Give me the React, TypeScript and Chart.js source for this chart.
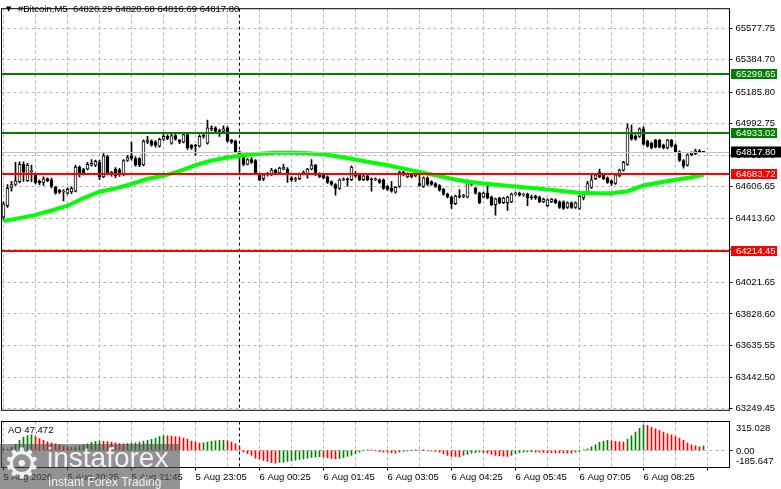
import React, { useEffect, useRef } from "react";
import { Chart, registerables } from "chart.js";

Chart.register(...registerables);

const FONT = "'Liberation Sans', Arial, sans-serif";
const FS = 9.5;
const GRID = "#b4b4b4";

// ---- data ----
const symbolName = "#Bitcoin,M5";
const startMinute = 19 * 60 + 5; // first bar: 5 Aug 19:05
const slotCount = 182; // bars + empty right shift
const axisLabels = [
  "5 Aug 2026", "5 Aug 20:25", "5 Aug 21:45", "5 Aug 23:05", "6 Aug 00:25", "6 Aug 01:45",
  "6 Aug 03:05", "6 Aug 04:25", "6 Aug 05:45", "6 Aug 07:05", "6 Aug 08:25",
];
const priceTicks = [
  65577.75, 65384.7, 65185.8, 64992.75, 64799.7, 64606.65, 64413.6, 64220.55,
  64021.65, 63828.6, 63635.55, 63442.5, 63249.45,
];
const priceMin = 63238.9;
const priceMax = 65696.8;

const openP = [
  64421, 64491, 64603, 64621, 64638, 64744, 64645, 64700, 64680, 64640, 64633, 64656, 64650, 64603, 64586, 64575,
  64568, 64575, 64580, 64727, 64712, 64715, 64739, 64739, 64756, 64668, 64792, 64685, 64715, 64710, 64680, 64768,
  64797, 64780, 64780, 64740, 64880, 64886, 64880, 64856, 64898, 64915, 64874, 64921, 64892, 64880, 64927, 64862,
  64860, 64856, 64921, 64874, 64968, 64968, 64950, 64945, 64968, 64892, 64886, 64821, 64786, 64744, 64774, 64768,
  64686, 64656, 64680, 64680, 64709, 64692, 64715, 64715, 64662, 64650, 64656, 64686, 64686, 64715, 64739, 64686,
  64680, 64668, 64638, 64621, 64597, 64650, 64656, 64650, 64690, 64680, 64650, 64674, 64656, 64650, 64650, 64650,
  64609, 64597, 64574, 64609, 64697, 64668, 64680, 64674, 64627, 64609, 64662, 64638, 64627, 64615, 64591, 64562,
  64544, 64503, 64550, 64548, 64544, 64638, 64597, 64568, 64544, 64568, 64544, 64497, 64538, 64509, 64509, 64515,
  64562, 64568, 64556, 64562, 64544, 64550, 64544, 64515, 64491, 64515, 64527, 64515, 64515, 64480, 64509, 64480,
  64474, 64538, 64568, 64603, 64656, 64697, 64680, 64662, 64644, 64627, 64674, 64709, 64744, 64927, 64915, 64915,
  64962, 64886, 64874, 64892, 64892, 64862, 64844, 64892, 64862, 64821, 64768, 64739, 64803, 64809, 64827, 64820.29,
];
const highP = [
  64515, 64620, 64640, 64756, 64760, 64760, 64750, 64739, 64690, 64650, 64668, 64662, 64660, 64609, 64592, 64590,
  64600, 64606, 64740, 64735, 64720, 64756, 64774, 64770, 64770, 64810, 64800, 64702, 64725, 64720, 64774, 64800,
  64880, 64790, 64786, 64895, 64915, 64895, 64890, 64905, 64933, 64925, 64930, 64930, 64898, 64935, 64935, 64865,
  64866, 64925, 64930, 65015, 64980, 64975, 64960, 64980, 64975, 64898, 64892, 64825, 64792, 64780, 64786, 64774,
  64690, 64686, 64695, 64720, 64715, 64727, 64744, 64725, 64670, 64665, 64690, 64705, 64720, 64774, 64745, 64692,
  64686, 64674, 64644, 64627, 64656, 64662, 64662, 64735, 64700, 64686, 64680, 64680, 64662, 64662, 64656, 64656,
  64615, 64640, 64609, 64703, 64703, 64692, 64686, 64710, 64680, 64668, 64668, 64644, 64633, 64621, 64597, 64568,
  64550, 64556, 64590, 64560, 64650, 64644, 64603, 64574, 64574, 64621, 64550, 64538, 64544, 64544, 64550, 64568,
  64574, 64574, 64568, 64568, 64556, 64556, 64550, 64538, 64533, 64536, 64533, 64521, 64521, 64515, 64515, 64515,
  64556, 64568, 64640, 64686, 64686, 64715, 64686, 64668, 64650, 64686, 64715, 64762, 64992, 64985, 64927, 64968,
  64975, 64892, 64880, 64898, 64898, 64868, 64898, 64898, 64868, 64827, 64774, 64809, 64821, 64838, 64835, 64820.68,
];
const lowP = [
  64403, 64480, 64580, 64615, 64630, 64640, 64640, 64638, 64625, 64620, 64615, 64638, 64600, 64562, 64565, 64521,
  64560, 64565, 64575, 64668, 64680, 64710, 64733, 64730, 64650, 64662, 64680, 64672, 64662, 64670, 64675, 64762,
  64770, 64733, 64730, 64735, 64870, 64855, 64850, 64850, 64890, 64895, 64868, 64892, 64870, 64875, 64835, 64835,
  64800, 64850, 64905, 64868, 64950, 64940, 64915, 64940, 64880, 64872, 64815, 64697, 64735, 64740, 64750, 64686,
  64645, 64645, 64672, 64675, 64686, 64686, 64710, 64633, 64640, 64640, 64650, 64680, 64660, 64710, 64675, 64662,
  64655, 64627, 64615, 64556, 64590, 64645, 64610, 64645, 64665, 64645, 64644, 64644, 64580, 64644, 64627, 64590,
  64585, 64574, 64568, 64603, 64674, 64662, 64662, 64668, 64609, 64603, 64615, 64615, 64603, 64580, 64556, 64538,
  64474, 64497, 64538, 64540, 64538, 64615, 64562, 64503, 64538, 64532, 64491, 64433, 64503, 64503, 64462, 64509,
  64556, 64550, 64550, 64491, 64530, 64530, 64509, 64509, 64485, 64509, 64503, 64474, 64468, 64474, 64474, 64474,
  64468, 64527, 64562, 64597, 64650, 64662, 64650, 64627, 64615, 64621, 64668, 64703, 64738, 64892, 64892, 64909,
  64862, 64850, 64838, 64844, 64844, 64838, 64838, 64850, 64815, 64762, 64721, 64733, 64797, 64803, 64815, 64816.69,
];
const closeP = [
  64503, 64597, 64621, 64644, 64744, 64697, 64739, 64703, 64633, 64630, 64656, 64645, 64609, 64568, 64574, 64580,
  64592, 64597, 64727, 64680, 64686, 64744, 64750, 64762, 64668, 64797, 64686, 64695, 64674, 64680, 64768, 64786,
  64780, 64739, 64739, 64886, 64892, 64862, 64862, 64898, 64915, 64903, 64921, 64898, 64880, 64927, 64844, 64844,
  64856, 64915, 64915, 64968, 64960, 64945, 64945, 64962, 64886, 64880, 64821, 64803, 64744, 64774, 64756, 64692,
  64650, 64680, 64686, 64709, 64692, 64721, 64727, 64680, 64650, 64656, 64686, 64697, 64715, 64739, 64680, 64668,
  64662, 64633, 64621, 64597, 64650, 64656, 64650, 64727, 64672, 64650, 64674, 64650, 64650, 64656, 64633, 64597,
  64591, 64580, 64603, 64697, 64680, 64686, 64668, 64703, 64615, 64662, 64621, 64621, 64609, 64586, 64562, 64544,
  64503, 64550, 64545, 64550, 64644, 64621, 64568, 64509, 64568, 64538, 64497, 64533, 64509, 64538, 64544, 64562,
  64568, 64556, 64562, 64538, 64540, 64538, 64515, 64532, 64527, 64530, 64509, 64480, 64474, 64509, 64480, 64509,
  64550, 64562, 64627, 64650, 64680, 64668, 64656, 64633, 64627, 64680, 64709, 64756, 64968, 64898, 64898, 64962,
  64868, 64856, 64844, 64850, 64850, 64844, 64892, 64856, 64821, 64768, 64733, 64803, 64815, 64827, 64821, 64817.8,
];

// moving average, read at sampled bars
const maBars = [
  0, 4, 8, 12, 16, 20, 24, 28, 32, 36, 40, 44, 48, 52, 56, 60, 64, 68, 72, 76, 80, 84, 88,
  92, 96, 100, 104, 108, 112, 116, 120, 124, 128, 132, 136, 140, 144, 148, 152, 156, 160, 164, 168, 172, 175,
];
const maValues = [
  64397, 64415, 64435, 64462, 64491, 64538, 64577, 64597, 64624, 64656, 64674, 64703, 64739, 64768, 64786,
  64800, 64809, 64815, 64815, 64812, 64806, 64791, 64774, 64756, 64739, 64718, 64697, 64677, 64656, 64638,
  64627, 64618, 64609, 64600, 64591, 64580, 64571, 64568, 64568, 64580, 64615, 64633, 64650, 64665, 64680,
];

const greenLevels = [65299.65, 64933.02];
const redLevels = [64683.72, 64214.45];
const dayBreakBar = 59;

const aoValues = [
  18, 15, 35, 65, 109, 145, 163, 170, 150, 130, 110, 95, 84, 73, 62, 47,
  36, 33, 40, 50, 62, 73, 87, 98, 105, 100, 96, 91, 84, 76, 73, 76,
  80, 84, 91, 102, 109, 120, 134, 152, 163, 160, 156, 152, 145, 134, 120, 102,
  91, 80, 82, 91, 98, 105, 109, 110, 105, 91, 73, 36, -18, -36, -54, -83,
  -91, -109, -120, -134, -138, -131, -127, -120, -113, -105, -98, -91, -84, -76, -73, -69,
  -72, -80, -87, -91, -87, -80, -65, -54, -36, -18, -5, 4, 2, -4, -12, -18,
  -19, -25, -29, -18, -11, -7, 0, 4, 5, 1, -3, -7, -11, -18, -36, -54,
  -65, -66, -67, -54, -44, -29, -25, -18, -25, -29, -44, -54, -56, -62, -65, -54,
  -36, -25, -18, -17, -16, -18, -20, -22, -24, -25, -26, -27, -28, -29, -30, -18,
  -10, 7, 18, 40, 62, 87, 100, 109, 105, 100, 95, 91, 120, 160, 200, 240,
  280, 272, 255, 236, 218, 200, 182, 170, 150, 134, 109, 80, 62, 50, 40, 47.472,
];
const aoMax = 315.028;
const aoMin = -185.647;

// ---- helpers ----
const pad2 = (n: number) => String(n).padStart(2, "0");
const slotLabels = Array.from({ length: slotCount }, (_, i) => {
  const m = startMinute + i * 5;
  const day = m >= 1440 ? 6 : 5;
  const mm = m % 1440;
  return `${day} Aug ${pad2(Math.floor(mm / 60))}:${pad2(mm % 60)}`;
});

const xGridColor = (c: any) =>
  c.index === dayBreakBar ? "#000000" : c.index % 8 === 0 ? GRID : "rgba(0,0,0,0)";

export default function App() {
  const mainRef = useRef<HTMLCanvasElement>(null);
  const aoRef = useRef<HTMLCanvasElement>(null);

  useEffect(() => {
    Chart.defaults.font.family = FONT;
    Chart.defaults.font.size = FS;
    Chart.defaults.color = "#000";

    const last = closeP.length - 1;

    const mainPlugin = {
      id: "mt4main",
      afterDatasetsDraw(chart: any) {
        const { ctx, chartArea: a, scales } = chart;
        const y = scales.y;
        ctx.save();
        ctx.beginPath();
        ctx.rect(a.left, a.top, a.right - a.left, a.bottom - a.top);
        ctx.clip();
        const cy = Math.round(y.getPixelForValue(closeP[last])) + 0.5;
        ctx.strokeStyle = "#c0c0c0";
        ctx.lineWidth = 1;
        ctx.beginPath();
        ctx.moveTo(a.left, cy);
        ctx.lineTo(a.right, cy);
        ctx.stroke();
        const drawLevel = (v: number, col: string) => {
          const py = Math.round(y.getPixelForValue(v));
          ctx.strokeStyle = col;
          ctx.lineWidth = 2;
          ctx.beginPath();
          ctx.moveTo(a.left, py);
          ctx.lineTo(a.right, py);
          ctx.stroke();
        };
        greenLevels.forEach((v) => drawLevel(v, "#008000"));
        redLevels.forEach((v) => drawLevel(v, "#ff0000"));
        ctx.restore();
      },
      afterDraw(chart: any) {
        const { ctx, chartArea: a, scales } = chart;
        const y = scales.y;
        ctx.save();
        ctx.strokeStyle = "#000";
        ctx.lineWidth = 1;
        ctx.strokeRect(a.left, a.top, a.right - a.left, a.bottom - a.top);
        ctx.font = `${FS}px ${FONT}`;
        ctx.textBaseline = "middle";
        const box = (v: number, bg: string, w: number, h: number) => {
          const py = Math.round(y.getPixelForValue(v));
          ctx.fillStyle = bg;
          ctx.fillRect(a.right + 1.5, py - h / 2, w, h);
          ctx.fillStyle = "#fff";
          ctx.textAlign = "left";
          ctx.fillText(v.toFixed(2), a.right + 6.5, py + 0.5);
        };
        greenLevels.forEach((v) => box(v, "#008000", 46, 10));
        redLevels.forEach((v) => box(v, "#ff0000", 46, 10));
        box(closeP[last], "#000000", 52, 11);
        // header
        ctx.fillStyle = "#000";
        ctx.font = `7px 'DejaVu Sans', sans-serif`;
        ctx.fillText("▼", 6, 9);
        ctx.font = `${FS}px ${FONT}`;
        const hdr = `${symbolName}  ${openP[last].toFixed(2)} ${highP[last].toFixed(2)} ${lowP[last].toFixed(2)} ${closeP[last].toFixed(2)}`;
        ctx.fillText(hdr, 18, 9);
        ctx.restore();
      },
    };

    const main = new Chart(mainRef.current as HTMLCanvasElement, {
      type: "bar",
      data: {
        labels: slotLabels,
        datasets: [
          {
            type: "bar",
            data: lowP.map((l, i) => [l, highP[i]]) as any,
            backgroundColor: "#000",
            borderWidth: 0,
            barThickness: 1,
            grouped: false,
            order: 3,
          },
          {
            type: "bar",
            data: openP.map((o, i) => [o, closeP[i]]) as any,
            backgroundColor: openP.map((o, i) => (closeP[i] >= o ? "#ffffff" : "#000000")),
            borderColor: "#000",
            borderWidth: 1,
            borderSkipped: false,
            barThickness: 3,
            minBarLength: 1,
            grouped: false,
            order: 2,
          },
          {
            type: "line",
            data: maBars.map((b, k) => ({ x: slotLabels[b], y: maValues[k] })) as any,
            borderColor: "#00ff00",
            borderWidth: 4,
            pointRadius: 0,
            tension: 0,
            spanGaps: true,
            order: 1,
          },
        ],
      },
      options: {
        responsive: false,
        animation: false,
        devicePixelRatio: 1,
        layout: { padding: { left: 1.5, top: 0.5, right: 0, bottom: 1.5 } },
        plugins: { legend: { display: false }, tooltip: { enabled: false } },
        scales: {
          x: {
            type: "category",
            offset: true,
            grid: { offset: false, color: xGridColor, drawTicks: false, lineWidth: 1 },
            border: { display: false, dash: [3, 3] },
            ticks: { display: false, autoSkip: false, maxRotation: 0, minRotation: 0 },
            afterFit: (s: any) => {
              s.height = 0;
            },
          },
          y: {
            position: "right",
            min: priceMin,
            max: priceMax,
            afterBuildTicks: (s: any) => {
              s.ticks = priceTicks.map((v) => ({ value: v }));
            },
            ticks: {
              callback: (v: any) => Number(v).toFixed(2),
              font: { size: FS, family: FONT },
              color: "#000",
              padding: 3,
            },
            grid: { color: GRID, tickColor: "#000", tickLength: 3, tickBorderDash: [] },
            border: { display: false, dash: [3, 3] },
            afterFit: (s: any) => {
              s.width = 51.5;
            },
          },
        },
      } as any,
      plugins: [mainPlugin],
    });

    const aoPlugin = {
      id: "mt4ao",
      afterDraw(chart: any) {
        const { ctx, chartArea: a, scales } = chart;
        ctx.save();
        ctx.strokeStyle = "#000";
        ctx.lineWidth = 1;
        ctx.strokeRect(a.left, a.top, a.right - a.left, a.bottom - a.top);
        ctx.fillStyle = "#000";
        ctx.font = `${FS}px ${FONT}`;
        ctx.textAlign = "left";
        ctx.textBaseline = "top";
        ctx.fillText(aoMax.toFixed(3), a.right + 6.5, a.top + 2.5);
        ctx.textBaseline = "middle";
        ctx.fillText("0.00", a.right + 6.5, scales.y.getPixelForValue(0) + 0.5);
        ctx.textBaseline = "bottom";
        ctx.fillText(aoMin.toFixed(3), a.right + 6.5, a.bottom - 1);
        ctx.textBaseline = "middle";
        ctx.fillText(`AO ${aoValues[aoValues.length - 1].toFixed(3)}`, 8, a.top + 8.5);
        ctx.restore();
      },
    };

    const ao = new Chart(aoRef.current as HTMLCanvasElement, {
      type: "bar",
      data: {
        labels: slotLabels,
        datasets: [
          {
            data: aoValues,
            backgroundColor: aoValues.map((v, i) =>
              i === 0 ? "#ff0000" : v >= aoValues[i - 1] ? "#008000" : "#ff0000"
            ),
            borderWidth: 0,
            barThickness: 1,
          },
        ],
      },
      options: {
        responsive: false,
        animation: false,
        devicePixelRatio: 1,
        layout: { padding: { left: 1.5, top: 2.5, right: 0, bottom: 0 } },
        plugins: { legend: { display: false }, tooltip: { enabled: false } },
        scales: {
          x: {
            type: "category",
            offset: true,
            grid: {
              offset: false,
              color: xGridColor,
              drawTicks: true,
              tickLength: 3,
              tickColor: (c: any) => (c.index % 16 === 0 ? "#000" : "rgba(0,0,0,0)"),
              tickBorderDash: [],
            },
            border: { display: false, dash: [3, 3] },
            ticks: {
              autoSkip: false,
              maxRotation: 0,
              minRotation: 0,
              align: "start",
              padding: 1,
              font: { size: FS, family: FONT },
              color: "#000",
              callback: (_v: any, i: number) => (i % 16 === 0 ? axisLabels[i / 16] ?? "" : ""),
            },
            afterFit: (s: any) => {
              s.height = 21.5;
            },
          },
          y: {
            position: "right",
            min: aoMin,
            max: aoMax,
            afterBuildTicks: (s: any) => {
              s.ticks = [{ value: 0 }];
            },
            ticks: { display: false },
            grid: { color: GRID, tickColor: "#000", tickLength: 3, tickBorderDash: [] },
            border: { display: false, dash: [3, 3] },
            afterFit: (s: any) => {
              s.width = 51.5;
            },
          },
        },
      } as any,
      plugins: [aoPlugin],
    });

    return () => {
      main.destroy();
      ao.destroy();
    };
  }, []);

  return (
    <div
      style={{
        position: "fixed",
        left: 0,
        top: 0,
        width: 781,
        height: 489,
        background: "#fff",
        overflow: "hidden",
      }}
    >
      <canvas ref={mainRef} width={781} height={419} style={{ position: "absolute", left: 0, top: 0 }} />
      <canvas ref={aoRef} width={781} height={70} style={{ position: "absolute", left: 0, top: 419 }} />
      <div
        style={{
          position: "absolute",
          left: 0,
          top: 444,
          width: 180,
          height: 45,
          background: "rgba(80,80,80,0.62)",
          color: "rgba(255,255,255,0.88)",
          fontFamily: FONT,
          overflow: "hidden",
        }}
      >
        <div style={{ position: "absolute", left: 3, top: -3, fontSize: 42, lineHeight: "46px", fontFamily: "'DejaVu Sans', sans-serif" }}>⚙</div>
        <div style={{ position: "absolute", left: 47, top: 0, fontSize: 28, lineHeight: "28px" }}>instaforex</div>
        <div style={{ position: "absolute", left: 48, top: 32, fontSize: 12, lineHeight: "12px" }}>Instant Forex Trading</div>
      </div>
    </div>
  );
}
